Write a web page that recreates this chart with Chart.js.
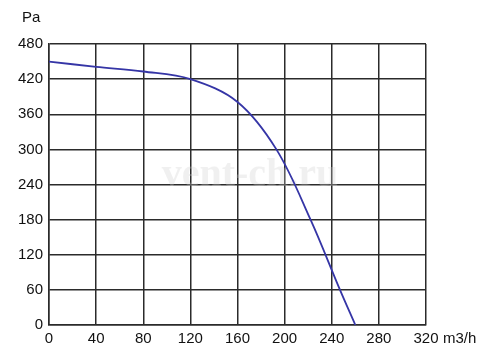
<!DOCTYPE html>
<html>
<head>
<meta charset="utf-8">
<script src="https://cdn.jsdelivr.net/npm/chart.js@4/dist/chart.umd.min.js"></script>
<style>
  html, body { margin: 0; padding: 0; background: #fff; }
  #wrap { width: 500px; height: 361px; position: relative; }
</style>
</head>
<body>
<div id="wrap"><canvas id="fan-chart"></canvas></div>
<script>
const airflow = [0, 40, 80, 120, 160, 193, 222, 247, 260];
const pressure = [450, 441, 433, 420, 381, 300, 180, 60, 0];
const xTicks = [0, 40, 80, 120, 160, 200, 240, 280, 320];
const yTicks = [0, 60, 120, 180, 240, 300, 360, 420, 480];
const xUnit = 'm3/h';
const yUnit = 'Pa';
const watermark = 'vent-ch.ru';

const FONT = 'Liberation Sans, Arial, sans-serif';
const GRID = '#2b2b2b';

const labelsPlugin = {
    id: 'unitLabels',
    beforeDatasetsDraw(chart) {
        const {ctx} = chart;
        ctx.save();
        ctx.font = 'bold 40px "Liberation Serif", serif';
        ctx.fillStyle = 'rgba(205, 205, 205, 0.3)';
        ctx.textAlign = 'center';
        ctx.textBaseline = 'middle';
        ctx.fillText(watermark, 250, 176);
        ctx.restore();
    },
    afterDraw(chart) {
        const {ctx, chartArea} = chart;
        ctx.save();
        ctx.font = '15px ' + FONT;
        ctx.fillStyle = '#111';
        ctx.textBaseline = 'middle';
        ctx.textAlign = 'left';
        ctx.fillText(yUnit, 22, 18);
        ctx.fillText(xUnit, chartArea.right + 17, 339);
        ctx.restore();
    }
};

const ctx = document.getElementById('fan-chart').getContext('2d');
new Chart(ctx, {
    type: 'scatter',
    data: {
        datasets: [{
            data: airflow.map((x, i) => ({x: x, y: pressure[i]})),
            showLine: true,
            borderColor: '#3535a6',
            borderWidth: 1.8,
            pointRadius: 0,
            tension: 0.35,
            fill: false
        }]
    },
    options: {
        responsive: true,
        maintainAspectRatio: false,
        animation: false,
        layout: { padding: { top: 44, right: 74, left: 0, bottom: 0 } },
        plugins: { legend: { display: false }, tooltip: { enabled: false } },
        scales: {
            x: {
                type: 'linear',
                min: 0, max: 320,
                afterBuildTicks: (axis) => { axis.ticks = xTicks.map(v => ({value: v})); },
                afterFit: (axis) => { axis.height = 36; },
                grid: { color: GRID, lineWidth: 1.5, drawTicks: false },
                border: { color: GRID, width: 1.5 },
                ticks: { font: { family: FONT, size: 15 }, color: '#111', padding: 5, maxRotation: 0 }
            },
            y: {
                type: 'linear',
                min: 0, max: 480,
                afterBuildTicks: (axis) => { axis.ticks = yTicks.map(v => ({value: v})); },
                afterFit: (axis) => { axis.width = 49; },
                grid: { color: GRID, lineWidth: 1.5, drawTicks: false },
                border: { color: GRID, width: 1.5 },
                ticks: { font: { family: FONT, size: 15 }, color: '#111', padding: 6 }
            }
        }
    },
    plugins: [labelsPlugin]
});
</script>
</body>
</html>
